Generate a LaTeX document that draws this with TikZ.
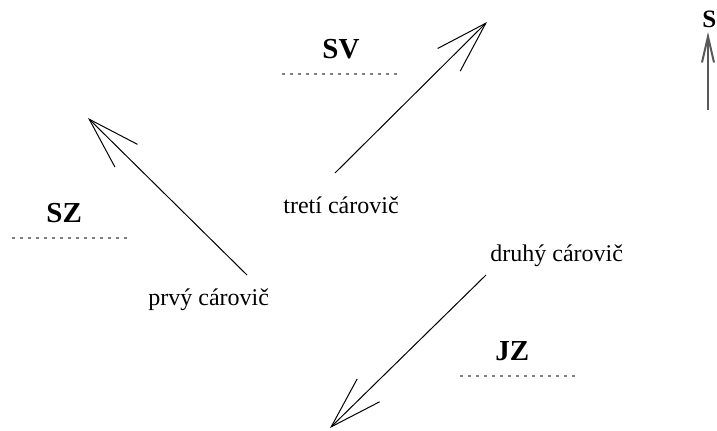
\documentclass[tikz,border=0pt]{standalone}
\usepackage{fontspec}
\setmainfont{Liberation Serif}
\usetikzlibrary{arrows.meta,positioning}

\begin{document}
\begin{tikzpicture}[
x=0.5pt, y=-0.5pt,
   lbl/.style = {font=\fontsize{12}{14}\selectfont, inner sep=0pt, anchor=base west},% names of the arrows
   dir/.style = {font=\fontsize{14.5}{17}\selectfont\bfseries, inner sep=0pt, anchor=base west},
  dots/.style = {draw=black!50, line width=1pt, dash pattern=on 1.5pt off 2.5pt},
   car/.style = {draw, line width=0.5pt,
                 -{Straight Barb[length=26pt,width=16pt,line width=0.5pt]}},
                    ]
\useasboundingbox (0,0) rectangle (717,430);
% headings with their dotted lines
\foreach \t/\x/\y/\a/\b in {SV/322/58/282/398, SZ/46/222/12/128, JZ/495/360/460/577}
  {
    \node[dir] (\t) at (\x,\y) {\t};
    \draw[dots] (\a,\y+16) -- (\b,\y+16);
  }
% labels
\node[lbl] (prvy)  at (148,305) {prvý cárovič};
\node[lbl] (druhy) at (490,261) {druhý cárovič};
\node[lbl] (treti) at (283,213) {tretí cárovič};
% arrows
\coordinate (p1) at (247,275);  \coordinate (p2) at (88,118);
\coordinate (d1) at (486,275);  \coordinate (d2) at (330,428);
\coordinate (t1) at (335,173);  \coordinate (t2) at (487,22);
\draw[car] (p1) -- (p2);
\draw[car] (d1) -- (d2);
\draw[car] (t1) -- (t2);
% north
\node[dir, font=\fontsize{12.5}{14}\selectfont\bfseries] (S) at (702,27) {S};
\coordinate (n1) at (708,110);  \coordinate (n2) at (708,32);
\draw[draw=black!65, line width=1pt,
      -{Straight Barb[length=13pt,width=6pt,line width=1pt]}] (n1) -- (n2);
\end{tikzpicture}
\end{document}
